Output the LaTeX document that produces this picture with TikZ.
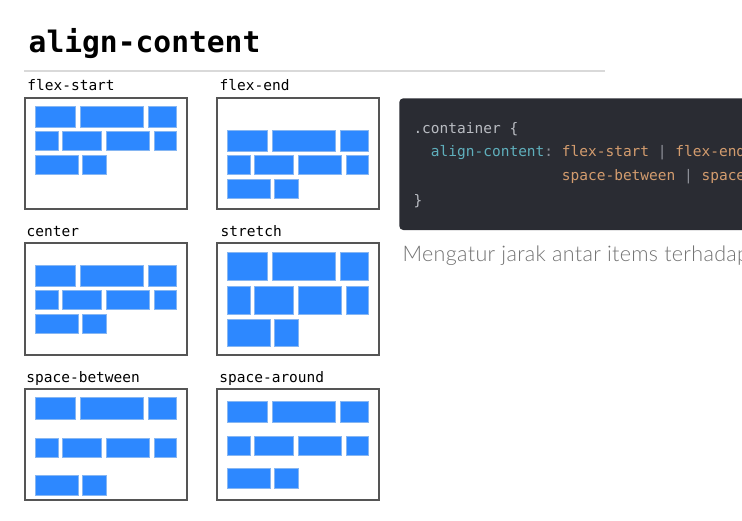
\documentclass[tikz,border=0pt]{standalone}
\usepackage{fontspec}
\setmonofont{DejaVu Sans Mono}
\newfontfamily\lightfont{Lato Light}[LetterSpace=1.5]
\definecolor{boxgray}{HTML}{555555}
\definecolor{itemblue}{HTML}{2D88FF}
\definecolor{itemedge}{HTML}{86B6F2}
\definecolor{rulegray}{HTML}{D9D9D9}
\definecolor{codebg}{HTML}{2A2C33}
\definecolor{codeplain}{HTML}{B9BCC2}
\definecolor{codeprop}{HTML}{5FAFBC}
\definecolor{codeval}{HTML}{D39C6E}
\definecolor{codepunct}{HTML}{8E9199}
\definecolor{desc}{HTML}{727272}
\tikzset{
  flexbox/.style={draw=boxgray, line width=2.2pt},
  item/.style={fill=itemblue, draw=itemedge, line width=0.7pt},
  lbl/.style={anchor=base west, inner sep=0pt, font=\fontsize{14.5}{16}\selectfont\ttfamily, text=black},
  codeline/.style={anchor=base west, inner sep=0pt, font=\fontsize{14.5}{16}\selectfont\ttfamily}
}
\newcommand\flexrows[7]{%
  \draw[item] (#1,#2) rectangle ({#1+40.5},#3);
  \draw[item] ({#1+45.5},#2) rectangle ({#1+108},#3);
  \draw[item] ({#1+113},#2) rectangle ({#1+141.3},#3);
  \draw[item] (#1,#4) rectangle ({#1+23.5},#5);
  \draw[item] ({#1+27.5},#4) rectangle ({#1+66},#5);
  \draw[item] ({#1+71},#4) rectangle ({#1+114.5},#5);
  \draw[item] ({#1+119.5},#4) rectangle ({#1+141},#5);
  \draw[item] (#1,#6) rectangle ({#1+43.5},#7);
  \draw[item] ({#1+47.5},#6) rectangle ({#1+71},#7);
}
\begin{document}
\begin{tikzpicture}[x=1pt,y=-1pt]
\useasboundingbox (0,0) rectangle (742,520);
\clip (0,0) rectangle (742,520);
\fill[white] (0,0) rectangle (742,520);
% title
\node[anchor=base west, inner sep=0pt, font=\fontsize{29.6}{32}\selectfont\ttfamily\bfseries] (title) at (28.5,52.7) {align-content};
\draw[rulegray, line width=1.5pt] (24.3,71) -- (605,71);
% labels
\node[lbl] (l1) at (27.2,90) {flex-start};
\node[lbl] (l2) at (219.5,90) {flex-end};
\node[lbl] (l3) at (26.5,236) {center};
\node[lbl] (l4) at (220.5,236) {stretch};
\node[lbl] (l5) at (26.2,382.5) {space-between};
\node[lbl] (l6) at (219.2,382.5) {space-around};
% boxes
\draw[flexbox] (25.3,97.7) rectangle (187,208.7);
\draw[flexbox] (217,97.7) rectangle (379,208.7);
\draw[flexbox] (25.3,243.3) rectangle (187,354.7);
\draw[flexbox] (217,243.3) rectangle (379,354.7);
\draw[flexbox] (25.3,389.3) rectangle (187,500);
\draw[flexbox] (217,389.3) rectangle (379,500);
% items
\flexrows{35.3}{106}{127.3}{131.3}{150.3}{155.3}{174.3}
\flexrows{227.3}{130}{151}{155.7}{174.7}{179.3}{198}
\flexrows{35.3}{265}{286}{290.7}{309.3}{314.7}{333.3}
\flexrows{227.3}{252.3}{280}{286.3}{314}{319.3}{346}
\flexrows{35.3}{397.7}{419}{438}{457}{475.7}{495}
\flexrows{227.3}{401.3}{422.7}{436.7}{455.3}{468.7}{488}
% code block
\fill[codebg, rounded corners=4pt] (399.3,98.3) rectangle (770,230);
\node[codeline, text=codeplain] (c1) at (413.3,133.3) {.container \{};
\node[codeline] (c2) at (413.3,156.7) {\phantom{xx}\textcolor{codeprop}{align-content}\textcolor{codepunct}{:} \textcolor{codeval}{flex-start} \textcolor{codepunct}{|} \textcolor{codeval}{flex-end}};
\node[codeline] (c3) at (413.3,180.7) {\phantom{xxxxxxxxxxxxxxxxx}\textcolor{codeval}{space-between} \textcolor{codepunct}{|} \textcolor{codeval}{space}};
\node[codeline, text=codeplain] (c4) at (413.3,205) {\}};
% description
\node[anchor=base west, inner sep=0pt, font=\fontsize{21.5}{24}\selectfont\lightfont, text=desc] (d) at (402.5,261.7) {Mengatur jarak antar items terhadap};
\end{tikzpicture}
\end{document}
